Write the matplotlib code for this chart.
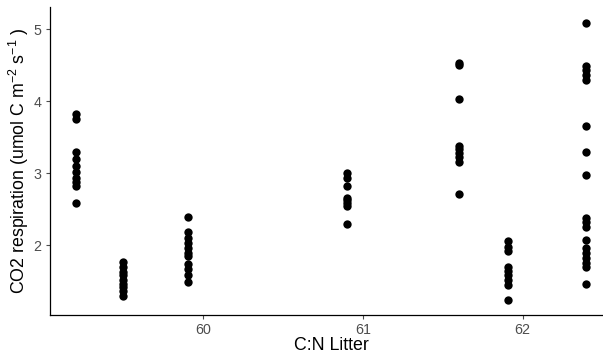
import matplotlib
matplotlib.use("Agg")
import matplotlib.pyplot as plt

# C:N litter value of each plot and the respiration readings at it
cn_levels = [59.2, 59.5, 59.905, 60.9, 61.6, 61.91, 62.4]
resp_59_2 = [3.82, 3.75, 3.29, 3.19, 3.10, 3.02, 2.93, 2.87, 2.82, 2.58]
resp_59_5 = [1.77, 1.69, 1.63, 1.58, 1.52, 1.46, 1.41, 1.36, 1.29]
resp_59_9 = [2.39, 2.18, 2.10, 2.03, 1.96, 1.89, 1.85, 1.73, 1.66, 1.59, 1.49]
resp_60_9 = [3.00, 2.93, 2.82, 2.66, 2.62, 2.58, 2.54, 2.29]
resp_61_6 = [4.53, 4.50, 4.03, 3.38, 3.33, 3.28, 3.22, 3.16, 2.71]
resp_61_9 = [2.05, 1.97, 1.92, 1.70, 1.64, 1.58, 1.52, 1.45, 1.23]
resp_62_4 = [5.09, 4.49, 4.43, 4.36, 4.30, 3.66, 3.29, 2.97, 2.38, 2.32,
             2.25, 2.07, 1.96, 1.89, 1.82, 1.75, 1.69, 1.46]
groups = [resp_59_2, resp_59_5, resp_59_9, resp_60_9, resp_61_6, resp_61_9, resp_62_4]

xticks = [60, 61, 62]
yticks = [2, 3, 4, 5]

plt.rcParams["font.family"] = ["Liberation Sans", "DejaVu Sans"]
plt.rcParams["mathtext.fontset"] = "custom"
plt.rcParams["mathtext.rm"] = "Liberation Sans"
plt.rcParams["mathtext.it"] = "Liberation Sans"

fig = plt.figure(figsize=(6.03, 3.62), dpi=100)
ax = fig.add_axes([50 / 603, 47 / 362, 562 / 603, 308 / 362])

xs, ys = [], []
for cn, vals in zip(cn_levels, groups):
    xs += [cn] * len(vals)
    ys += vals
ax.scatter(xs, ys, s=36, color="black", linewidths=0, zorder=3)

ax.set_xlim(59.04, 62.56)
ax.set_ylim(1.027, 5.31)
ax.set_xticks(xticks)
ax.set_yticks(yticks)
ax.tick_params(colors="#4d4d4d", labelsize=10.3, length=3, width=0.8, pad=3)
for s in ("top", "right"):
    ax.spines[s].set_visible(False)
for s in ("left", "bottom"):
    ax.spines[s].set_color("black")
    ax.spines[s].set_linewidth(0.9)

ax.set_xlabel("C:N Litter", fontsize=12.8, labelpad=0)
ax.set_ylabel(r"CO2 respiration (umol C m$^{-2}$ s$^{-1}$ )", fontsize=12.8, labelpad=2)

fig.savefig("out.png", dpi=100)
plt.close(fig)
